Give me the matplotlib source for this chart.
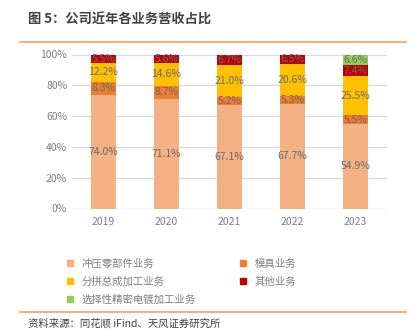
import matplotlib

matplotlib.use("Agg")

import matplotlib.pyplot as plt
from matplotlib.lines import Line2D

plt.rcParams["font.family"] = ["Noto Sans CJK SC", "DejaVu Sans"]

years = ["2019", "2020", "2021", "2022", "2023"]
stamping = [74.0, 71.1, 67.1, 67.7, 54.9]
molds = [8.3, 8.7, 5.2, 5.3, 5.5]
assembly = [12.2, 14.6, 21.0, 20.6, 25.5]
others = [5.5, 5.6, 6.7, 6.5, 7.4]
plating = [0.0, 0.0, 0.0, 0.0, 6.6]

series_names = ["冲压零部件业务", "模具业务", "分拼总成加工业务", "其他业务", "选择性精密电镀加工业务"]
series_vals = [stamping, molds, assembly, others, plating]
colors = ["#F4B183", "#ED7D31", "#FFC000", "#C00000", "#92D050"]

fig = plt.figure(figsize=(4.18, 3.36), dpi=100)
ax = fig.add_axes([72 / 418, 1 - 208.5 / 336, 315 / 418, 154 / 336])

x = range(len(years))
bottom = [0.0] * len(years)
for name, vals, col in zip(series_names, series_vals, colors):
    ax.bar(x, vals, width=0.4, bottom=bottom, color=col, label=name, zorder=2)
    for i, v in enumerate(vals):
        if v > 0:
            ax.text(i, bottom[i] + v / 2, f"{v:.1f}%", ha="center", va="center",
                    fontsize=7.5, color="#6b6b6b", zorder=3)
    bottom = [b + v for b, v in zip(bottom, vals)]

ax.set_xlim(-0.5, 4.5)
ax.set_ylim(0, 100)
ax.set_yticks(range(0, 101, 20))
ax.set_yticklabels([f"{t}%" for t in range(0, 101, 20)])
ax.set_xticks(list(x))
ax.set_xticklabels(years)
ax.tick_params(axis="both", length=0, labelsize=7.5, labelcolor="#7f7f7f")
ax.tick_params(axis="x", pad=6)
ax.yaxis.grid(True, color="#d9d9d9", linewidth=0.9, zorder=0)
for spine in ax.spines.values():
    spine.set_visible(False)
ax.axhline(0, color="#d9d9d9", linewidth=0.9, zorder=1)

# legend fills row by row in the reference
order = [0, 2, 4, 1, 3]
handles = [Line2D([], [], marker="s", linestyle="", markersize=4.5,
                  color=colors[i]) for i in order]
labels = [series_names[i] for i in order]
fig.legend(handles, labels, ncol=2, loc="upper left",
           bbox_to_anchor=(55 / 418, 1 - 249 / 336), frameon=False,
           fontsize=7.5, labelcolor="#7f7f7f", handlelength=1.0,
           handletextpad=0.65, columnspacing=4.0, labelspacing=0.75)

fig.text(28 / 418, 1 - 20 / 336, "图 5：公司近年各业务营收占比", fontsize=9.5,
         color="#404040", fontweight="bold", va="center", ha="left")
fig.add_artist(Line2D([20 / 418, 406 / 418], [1 - 42 / 336, 1 - 42 / 336],
                      color="#F4A460", linewidth=1.2))
fig.add_artist(Line2D([20 / 418, 406 / 418], [1 - 312 / 336, 1 - 312 / 336],
                      color="#F4A460", linewidth=1.2))
fig.text(28 / 418, 1 - 323 / 336, "资料来源：同花顺 iFind、天风证券研究所", fontsize=7.5,
         color="#404040", va="center", ha="left")

fig.savefig("out.png", dpi=100)
